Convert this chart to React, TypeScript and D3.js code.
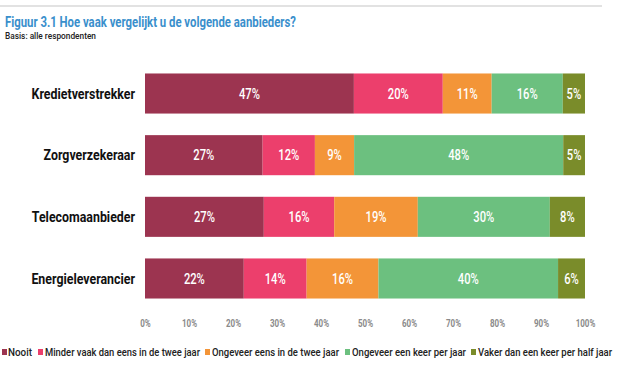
import React, { useEffect, useRef } from "react";
import * as d3 from "d3";

const categories = ["Kredietverstrekker", "Zorgverzekeraar", "Telecomaanbieder", "Energieleverancier"];
const seriesNames = [
  "Nooit",
  "Minder vaak dan eens in de twee jaar",
  "Ongeveer eens in de twee jaar",
  "Ongeveer een keer per jaar",
  "Vaker dan een keer per half jaar",
];
const nooit = [47, 27, 27, 22];
const minderVaak = [20, 12, 16, 14];
const eensTweeJaar = [11, 9, 19, 16];
const keerPerJaar = [16, 48, 30, 40];
const vaker = [5, 5, 8, 6];
const tickValues = [0, 10, 20, 30, 40, 50, 60, 70, 80, 90, 100];
const colors = ["#9c3450", "#ec3f6c", "#f39538", "#6cc07f", "#7a8c2a"];

const FONT = "Roboto, 'DejaVu Sans', sans-serif";
const SQUEEZE = 0.8;

const App = () => {
  const svgRef = useRef<SVGSVGElement | null>(null);

  useEffect(() => {
    document.body.style.margin = "0";
    if (!svgRef.current) return;
    const svg = d3.select(svgRef.current);
    svg.selectAll("*").remove();

    const series = [nooit, minderVaak, eensTweeJaar, keerPerJaar, vaker];

    // top rule
    svg.append("line")
      .attr("x1", 0).attr("x2", 602).attr("y1", 6).attr("y2", 6)
      .attr("stroke", "#e2e2e2").attr("stroke-width", 2);

    svg.append("text")
      .attr("x", 5).attr("y", 27)
      .attr("textLength", 291).attr("lengthAdjust", "spacingAndGlyphs")
      .style("font-family", FONT).style("font-size", "15px").style("font-weight", "bold")
      .style("fill", "#3a8fcc")
      .text("Figuur 3.1 Hoe vaak vergelijkt u de volgende aanbieders?");
    svg.append("text")
      .attr("x", 5).attr("y", 38.5)
      .attr("textLength", 91).attr("lengthAdjust", "spacingAndGlyphs")
      .style("font-family", FONT).style("font-size", "9.5px").style("font-weight", 500)
      .style("fill", "#222")
      .text("Basis: alle respondenten");

    const x = d3.scaleLinear().domain([0, 100]).range([145, 585]);
    const y = d3.scaleBand().domain(categories).range([63, 309]).paddingInner(0.35).paddingOuter(0.17);

    const rows = categories.map((c, i) => {
      const vals = series.map((s) => s[i]);
      const total = d3.sum(vals);
      let acc = 0;
      return vals.map((v, k) => {
        const start = acc;
        acc += (v / total) * 100;
        return { cat: c, k, v, x0: start, x1: acc };
      });
    });

    const g = svg.append("g");
    rows.forEach((row) => {
      g.selectAll(null)
        .data(row)
        .enter()
        .append("rect")
        .attr("x", (d) => x(d.x0))
        .attr("y", (d) => y(d.cat)!)
        .attr("width", (d) => x(d.x1) - x(d.x0))
        .attr("height", y.bandwidth())
        .attr("fill", (d) => colors[d.k]);
      g.selectAll(null)
        .data(row)
        .enter()
        .append("text")
        .attr("transform", (d) =>
          `translate(${(x(d.x0) + x(d.x1)) / 2},${y(d.cat)! + y.bandwidth() / 2}) scale(${SQUEEZE},1)`)
        .attr("dy", "0.36em")
        .attr("text-anchor", "middle")
        .style("font-family", FONT).style("font-size", "14px").style("font-weight", 500)
        .style("fill", "#fff")
        .text((d) => `${d.v}%`);
    });

    // category labels
    svg.append("g")
      .selectAll("text")
      .data(categories)
      .enter()
      .append("text")
      .attr("transform", (d) => `translate(135,${y(d)! + y.bandwidth() / 2}) scale(0.885,1)`)
      .attr("dy", "0.36em")
      .attr("text-anchor", "end")
      .style("font-family", FONT).style("font-size", "14px").style("font-weight", "bold")
      .style("fill", "#111")
      .text((d) => d);

    // x axis
    const axis = svg.append("g")
      .attr("transform", "translate(0,317)")
      .call(d3.axisBottom(x).tickValues(tickValues).tickSize(0).tickFormat((d) => `${d}%`));
    axis.select(".domain").remove();
    axis.selectAll("text")
      .attr("transform", `scale(${SQUEEZE},1)`)
      .style("font-family", FONT).style("font-size", "10px").style("font-weight", "bold")
      .style("fill", "#8a8a8a");

    // legend
    const legendSquare = [2, 38, 205, 345, 471];
    const legendText = [[8, 24], [45, 155], [212, 127], [352, 114], [478, 134]];
    const leg = svg.append("g");
    seriesNames.forEach((n, i) => {
      leg.append("rect")
        .attr("x", legendSquare[i]).attr("y", 349).attr("width", 5).attr("height", 6)
        .attr("fill", colors[i]);
      leg.append("text")
        .attr("x", legendText[i][0]).attr("y", 356)
        .attr("textLength", legendText[i][1]).attr("lengthAdjust", "spacingAndGlyphs")
        .style("font-family", FONT).style("font-size", "10px").style("font-weight", 500)
        .style("fill", "#222")
        .text(n);
    });
  }, []);

  return <svg ref={svgRef} width={620} height={365} style={{ display: "block", background: "#fff" }} />;
};

export default App;
